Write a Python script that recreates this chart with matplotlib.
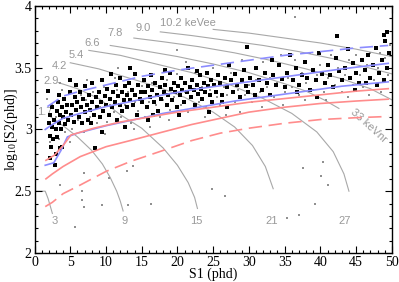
import numpy as np
import matplotlib
matplotlib.use("Agg")
import matplotlib.pyplot as plt

plt.rcParams['font.family'] = 'Liberation Serif'
plt.rcParams['mathtext.fontset'] = 'stix'

# ---- energy contours (keVee / keVnr)
contours = [
    ([0.0, 1.5, 1.9, 2.2, 2.5], [2.50, 2.50, 2.44, 2.38, 2.32]),
    ([2.3, 4.0, 6.0, 8.0, 9.5, 10.6, 11.5, 12.0, 12.4], [3.10, 3.03, 2.94, 2.83, 2.72, 2.61, 2.50, 2.42, 2.34]),
    ([3.3, 6.0, 9.0, 12.0, 15.0, 18.0, 20.0, 21.5, 22.4, 22.8], [3.38, 3.33, 3.25, 3.12, 3.01, 2.85, 2.71, 2.57, 2.45, 2.36]),
    ([5.0, 9.0, 13.0, 17.0, 21.0, 25.0, 28.0, 30.5, 32.3, 33.4], [3.54, 3.49, 3.42, 3.35, 3.26, 3.14, 3.02, 2.87, 2.70, 2.52]),
    ([7.6, 12.0, 17.0, 22.0, 27.0, 32.0, 36.0, 39.5, 41.8, 43.3, 44.0], [3.64, 3.60, 3.53, 3.46, 3.37, 3.25, 3.13, 2.98, 2.82, 2.64, 2.50]),
    ([10.6, 15.0, 20.0, 25.0, 30.0, 35.0, 38.0, 40.5, 42.6], [3.68, 3.64, 3.59, 3.53, 3.46, 3.37, 3.31, 3.24, 3.17]),
    ([13.9, 18.0, 23.0, 28.0, 33.0, 38.0, 43.0, 47.0, 50.0], [3.74, 3.71, 3.67, 3.62, 3.56, 3.49, 3.41, 3.33, 3.24]),
    ([17.6, 22.0, 27.0, 32.0, 37.0, 42.0, 46.0, 50.0], [3.79, 3.76, 3.72, 3.68, 3.63, 3.57, 3.51, 3.45]),
    ([25.0, 30.0, 35.0, 40.0, 45.0, 50.0], [3.81, 3.78, 3.74, 3.70, 3.65, 3.59]),
]

ee_labels = ['1.7', '2.9', '4.2', '5.4', '6.6', '7.8', '9.0', '10.2 keVee']
ee_x = [0.4, 1.2, 2.4, 4.7, 7.0, 10.2, 14.2, 17.5]
ee_y = [3.14, 3.39, 3.51, 3.60, 3.70, 3.78, 3.82, 3.86]

nr_labels = ['3', '9', '15', '21', '27']
nr_x = [2.8, 12.6, 22.7, 33.2, 43.4]
nr_y = [2.26, 2.26, 2.26, 2.26, 2.26]

# ---- band lines
er_hi_x = [1.8, 4.0, 6.4, 10.0, 15.0, 20.0, 25.0, 30.0, 35.0, 40.0, 45.0, 49.5]
er_hi_y = [3.185, 3.27, 3.31, 3.36, 3.43, 3.48, 3.52, 3.56, 3.60, 3.63, 3.66, 3.68]
er_med_x = [1.5, 2.5, 4.0, 6.4, 10.0, 13.4, 18.0, 23.0, 28.0, 33.0, 38.0, 43.0, 49.5]
er_med_y = [3.00, 3.04, 3.09, 3.13, 3.185, 3.225, 3.28, 3.33, 3.37, 3.41, 3.45, 3.49, 3.535]
er_lo_x = [1.5, 2.7, 3.7, 4.6, 6.0, 8.0, 10.0, 14.0, 18.0, 23.0, 28.0, 33.0, 38.0, 43.0, 49.5]
er_lo_y = [2.71, 2.73, 2.83, 2.94, 2.97, 3.00, 3.03, 3.08, 3.13, 3.18, 3.23, 3.27, 3.31, 3.35, 3.385]

nr_hi_x = [1.6, 2.75, 4.0, 5.1, 8.3, 12.0, 16.0, 20.0, 25.0, 30.0, 35.0, 40.0, 45.0, 49.5]
nr_hi_y = [2.75, 2.79, 2.87, 2.955, 3.01, 3.06, 3.10, 3.14, 3.18, 3.22, 3.25, 3.28, 3.31, 3.33]
nr_med_x = [1.6, 2.5, 4.0, 6.4, 10.0, 13.4, 18.0, 22.0, 26.0, 30.0, 35.0, 40.0, 45.0, 49.5]
nr_med_y = [2.60, 2.64, 2.70, 2.78, 2.86, 2.91, 2.98, 3.04, 3.09, 3.14, 3.18, 3.21, 3.23, 3.245]
nr_lo_x = [1.5, 2.5, 4.0, 6.4, 10.0, 13.4, 18.0, 22.0, 26.0, 30.0, 35.0, 40.0, 45.0, 49.5]
nr_lo_y = [2.375, 2.41, 2.48, 2.55, 2.66, 2.74, 2.83, 2.91, 2.97, 3.01, 3.05, 3.08, 3.095, 3.105]

# ---- events
black_pts = [
    (1.9,3.31),(2.0,3.05),(2.1,2.95),(2.2,3.12),(2.3,2.86),(2.2,2.77),(2.4,3.02),(2.5,3.18),(2.6,2.92),(2.7,3.08),
    (2.9,2.71),(3.0,2.80),(3.0,3.0),(3.1,3.15),(3.2,2.94),(3.3,3.22),(3.4,3.05),(3.5,3.12),(3.6,2.85),(3.7,3.0),
    (3.8,3.18),(3.9,2.86),(4.0,3.1),(4.1,3.25),(4.3,3.04),(4.4,3.14),(4.6,3.2),(4.7,3.08),(4.9,3.3),(5.0,3.40),
    (5.1,3.12),(5.3,3.2),(5.5,3.06),(5.6,3.26),(5.8,3.16),(6.0,3.22),(6.2,3.1),(6.3,3.3),(6.5,3.18),(6.6,3.05),
    (6.8,3.25),(7.0,3.14),(7.1,3.35),(7.3,3.2),(7.5,3.08),(7.6,3.28),(7.8,3.16),(8.0,3.22),(8.1,3.38),(8.3,3.12),
    (8.5,2.85),(8.6,3.26),(8.8,3.18),(9.0,3.3),(9.1,3.1),(9.3,3.22),(9.5,3.4),(9.6,3.15),(9.8,3.27),(10.0,3.2),
    (10.2,3.33),(10.4,3.12),(10.5,3.25),(10.7,3.45),(10.9,3.18),(11.0,3.3),(11.2,3.22),(11.4,3.36),(11.5,3.08),(11.7,3.27),
    (11.9,3.2),(12.0,3.42),(12.2,3.3),(12.3,3.15),(12.5,3.24),(12.7,3.35),(12.9,3.28),(13.0,3.18),(13.2,3.38),(13.4,3.24),
    (13.6,3.32),(13.8,3.2),(14.0,3.45),(14.1,3.28),(14.3,3.12),(14.5,3.36),(14.7,3.25),(14.9,3.3),(15.1,3.22),(15.3,3.4),
    (15.5,3.3),(15.7,3.18),(15.9,3.35),(16.1,3.26),(16.3,3.44),(16.5,3.32),(16.7,3.22),(16.9,3.38),(17.1,3.28),(17.3,3.15),
    (17.5,3.34),(17.7,3.25),(17.9,3.42),(18.1,3.3),(18.3,3.36),(18.5,3.2),(18.7,3.28),(18.9,3.46),(19.1,3.33),(19.3,3.24),
    (19.5,3.38),(19.7,3.3),(19.9,3.18),(20.1,3.35),(20.3,3.28),(20.5,3.42),(20.7,3.32),(20.9,3.22),(21.1,3.38),(21.3,3.3),
    (21.5,3.5),(21.7,3.34),(21.9,3.26),(22.1,3.4),(22.3,3.32),(22.5,3.2),(22.7,3.36),(22.9,3.29),(23.1,3.44),(23.3,3.33),
    (23.5,3.25),(23.7,3.38),(23.9,3.3),(24.1,3.46),(24.3,3.35),(24.5,3.28),(24.7,3.4),(24.9,3.22),(25.1,3.36),(25.4,3.3),
    (25.7,3.44),(26.0,3.38),(26.3,3.28),(26.6,3.42),(26.9,3.34),(27.2,3.52),(27.5,3.4),(27.8,3.3),(28.1,3.45),(28.4,3.36),
    (28.7,3.26),(29.0,3.4),(29.3,3.48),(29.6,3.35),(29.9,3.3),(29.7,3.67),(30.2,3.42),(30.6,3.36),(31.0,3.5),(31.4,3.4),
    (31.8,3.32),(32.2,3.46),(32.6,3.38),(33.0,3.28),(33.4,3.44),(33.8,3.36),(34.2,3.52),(34.6,3.41),(35.0,3.34),(35.4,3.46),
    (35.8,3.6),(36.2,3.4),(36.6,3.5),(37.0,3.36),(37.4,3.44),(37.8,3.55),(38.2,3.42),(38.6,3.32),(39.0,3.48),(39.4,3.4),
    (39.8,3.62),(40.2,3.45),(40.6,3.38),(41.0,3.52),(41.4,3.44),(41.8,3.34),(42.2,3.58),(42.3,3.76),(42.6,3.47),(43.0,3.4),
    (43.4,3.5),(43.8,3.65),(44.2,3.42),(44.6,3.54),(45.0,3.46),(45.4,3.38),(45.8,3.56),(46.2,3.48),(46.6,3.6),(47.0,3.42),
    (47.4,3.52),(47.8,3.66),(48.2,3.46),(48.6,3.56),(49.0,3.72),(49.3,3.5),(49.6,3.62),(48.9,3.4),(47.9,3.36),(48.9,3.765),
    (49.3,3.79),
    (3.4,3.28),(5.8,3.36),(7.9,3.05),(9.4,2.98),(12.6,3.02),(15.9,3.08),(18.2,3.48),(20.2,3.12),(22.8,3.47),(24.4,3.14),
    (26.2,3.22),(27.0,3.18),(30.8,3.28),(33.2,3.56),(36.8,3.3),(39.6,3.26),(44.8,3.32),(46.4,3.38),(13.3,3.5),(16.6,3.12),
]

gray_pts = [
    (2.5,3.2),(3.0,3.1),(3.4,2.92),(3.8,3.32),(4.2,2.98),(4.6,3.15),(5.2,3.0),(5.6,3.35),(6.1,3.08),(6.5,3.28),
    (6.9,2.98),(7.2,3.24),(7.7,3.1),(8.2,3.3),(8.7,3.05),(9.2,3.18),(9.7,3.34),(10.1,3.06),(10.6,3.2),(11.1,3.14),
    (11.6,3.32),(12.1,3.1),(12.6,3.2),(13.1,3.3),(13.5,3.05),(14.0,3.22),(14.5,3.15),(15.0,3.35),(15.5,3.1),(16.0,3.22),
    (16.5,3.38),(17.0,3.2),(17.5,3.1),(18.0,3.24),(18.5,3.4),(19.0,3.16),(19.5,3.26),(20.0,3.45),(20.5,3.2),(21.0,3.3),
    (21.5,3.14),(22.0,3.26),(22.5,3.46),(23.0,3.22),(23.5,3.34),(24.0,3.18),(24.5,3.32),(25.0,3.5),(25.5,3.26),(26.0,3.2),
    (26.5,3.34),(27.0,3.28),(27.5,3.46),(28.0,3.22),(28.5,3.32),(29.0,3.56),(29.5,3.28),(30.0,3.36),(30.5,3.22),(31.0,3.4),
    (31.5,3.3),(32.0,3.55),(32.5,3.34),(33.0,3.42),(33.5,3.26),(34.0,3.38),(34.5,3.6),(35.0,3.3),(35.5,3.42),(36.0,3.34),
    (36.5,3.56),(37.0,3.28),(37.5,3.46),(38.0,3.38),(38.5,3.62),(39.0,3.32),(39.5,3.44),(40.0,3.52),(40.5,3.3),(41.0,3.42),
    (41.5,3.6),(42.0,3.36),(42.5,3.5),(43.0,3.3),(43.5,3.44),(44.0,3.56),(44.5,3.36),(45.0,3.6),(45.5,3.44),(46.0,3.34),
    (46.5,3.52),(47.0,3.62),(47.5,3.4),(48.0,3.5),(48.5,3.3),(49.0,3.58),(49.5,3.44),(49.7,3.68),(48.3,3.62),(1.8,3.25),
    (2.2,2.9),(3.6,3.38),(4.9,2.9),(7.4,3.4),(9.9,2.96),(11.3,3.42),(13.9,3.0),(16.2,3.02),(18.8,3.08),(21.2,3.55),
    (23.8,3.1),(26.8,3.12),(28.8,3.14),(31.8,3.18),(34.8,3.2),(37.8,3.24),(40.8,3.24),(43.8,3.26),(46.8,3.28),(19.9,3.64),
    (11.7,3.50),(36.4,3.91),
    (5.7,2.21),(3.5,2.55),(6.6,2.50),(6.6,2.43),(6.9,2.37),(6.9,2.65),(9.5,2.39),(10.4,2.61),(12.9,2.66),(13.8,2.70),
    (13.1,2.39),(16.3,2.40),(24.8,2.52),(26.6,2.46),(35.4,2.28),(37.0,2.31),(37.6,2.69),(40.4,2.74),(40.1,2.62),(41.1,2.55),
    (39.3,2.40),
]

label_gray = '#999999'
line_gray = '#a8a8a8'
blue = '#8c8cff'
red = '#ff8c8c'

fig = plt.figure(figsize=(3.99, 2.82), dpi=100)
ax = fig.add_axes([0.0865, 0.103, 0.8955, 0.876])

for cx, cy in contours:
    ax.plot(cx, cy, color=line_gray, lw=0.8, zorder=1)

for t, x, y in zip(ee_labels, ee_x, ee_y):
    ax.text(x, y, t, color=label_gray, fontsize=8, family='Liberation Sans', ha='left', va='center')
for t, x, y in zip(nr_labels, nr_x, nr_y):
    ax.text(x, y, t, color=label_gray, fontsize=8, family='Liberation Sans', ha='center', va='center')
ax.text(46.8, 3.03, '33 keVnr', color=label_gray, fontsize=8, family='Liberation Sans',
        ha='center', va='center', rotation=-42)

gx, gy = zip(*gray_pts)
ax.scatter(gx, gy, s=3.5, marker='s', color='#909090', linewidths=0, zorder=2)
bx, by = zip(*black_pts)
ax.scatter(bx, by, s=5.5, marker='s', color='black', linewidths=0, zorder=3)

ax.plot(er_hi_x, er_hi_y, color=blue, lw=1.2, dashes=(8, 4), zorder=4)
ax.plot(er_med_x, er_med_y, color=blue, lw=1.2, zorder=4)
ax.plot(er_lo_x, er_lo_y, color=blue, lw=1.2, zorder=4)
ax.plot(nr_hi_x, nr_hi_y, color=red, lw=1.2, zorder=4)
ax.plot(nr_med_x, nr_med_y, color=red, lw=1.2, zorder=4)
ax.plot(nr_lo_x, nr_lo_y, color=red, lw=1.2, dashes=(8, 4), zorder=4)

ax.set_xlim(0, 50)
ax.set_ylim(2, 4)
ax.set_xticks(np.arange(0, 51, 5))
ax.set_xticks(np.arange(0, 51, 1), minor=True)
ax.set_yticks([2, 2.5, 3, 3.5, 4])
ax.set_yticklabels(['2', '2.5', '3', '3.5', '4'])
ax.set_yticks(np.arange(2, 4.01, 0.1), minor=True)
ax.tick_params(which='both', direction='in', top=True, right=True, labelsize=10, width=0.8, pad=2)
ax.tick_params(which='major', length=5)
ax.tick_params(which='minor', length=2.5)
for s in ax.spines.values():
    s.set_linewidth(1.0)
ax.set_xlabel('S1 (phd)', fontsize=10)
ax.set_ylabel(r'log$_{\mathregular{10}}$[S2(phd)]', fontsize=10)
ax.xaxis.set_label_coords(0.5, -0.06)
ax.yaxis.set_label_coords(-0.042, 0.5)

fig.savefig('out.png', dpi=100)
